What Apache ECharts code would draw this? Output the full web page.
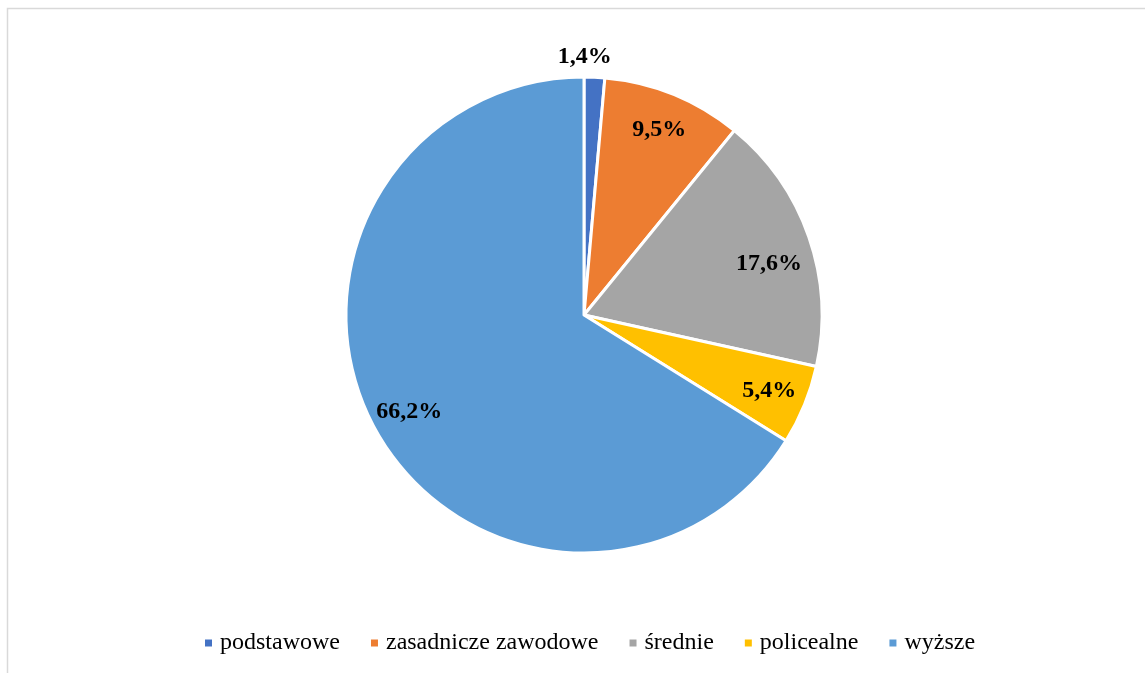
<!DOCTYPE html>
<html>
<head>
<meta charset="utf-8">
<script src="https://cdn.jsdelivr.net/npm/echarts@6/dist/echarts.min.js"></script>
<style>
html,body{margin:0;padding:0;background:#fff;}
#chart{width:1145px;height:673px;}
</style>
</head>
<body>
<div id="chart"></div>
<script>
const categories = ['podstawowe', 'zasadnicze zawodowe', 'średnie', 'policealne', 'wyższe'];
const values = [1.4, 9.5, 17.6, 5.4, 66.2];
const colors = ['#4472C4', '#ED7D31', '#A5A5A5', '#FFC000', '#5B9BD5'];

const chart = echarts.init(document.getElementById('chart'), null, {renderer: 'canvas'});
const fmt = p => p.value.toFixed(1).replace('.', ',') + '%';
const serif = '"Liberation Serif", "Times New Roman", serif';

const pieData = categories.map((c, i) => ({
  name: c, value: values[i], itemStyle: {color: colors[i]}
}));
const labelOffsets = {0: [-8, -58], 2: [-4, 14]};
const labelData = categories.map((c, i) => {
  const d = {name: c, value: values[i]};
  if (labelOffsets[i]) d.label = {offset: labelOffsets[i]};
  return d;
});

chart.setOption({
  animation: false,
  backgroundColor: '#fff',
  graphic: [{
    type: 'rect',
    shape: {x: 7.5, y: 8.5, width: 1200, height: 700},
    style: {fill: 'none', stroke: '#d9d9d9', lineWidth: 1.5},
    silent: true
  }],
  legend: {
    bottom: 13,
    left: 198,
    data: categories,
    icon: 'rect',
    itemWidth: 9,
    itemHeight: 9,
    itemGap: 29,
    textStyle: {fontFamily: serif, fontSize: 24, color: '#000', padding: [0, 0, 0, 2]},
  },
  series: [{
    type: 'pie',
    center: [584, 315],
    radius: [0, 238],
    startAngle: 90,
    clockwise: true,
    avoidLabelOverlap: false,
    label: {show: false},
    labelLine: {show: false},
    itemStyle: {borderColor: '#fff', borderWidth: 3},
    emphasis: {disabled: true},
    data: pieData
  }, {
    type: 'pie',
    center: [584, 315],
    radius: [156, 238],
    startAngle: 90,
    clockwise: true,
    silent: true,
    avoidLabelOverlap: false,
    legendHoverLink: false,
    itemStyle: {color: 'rgba(0,0,0,0)', borderWidth: 0},
    label: {
      show: true, position: 'inside', formatter: fmt,
      fontFamily: serif, fontSize: 24, fontWeight: 'bold', color: '#000'
    },
    labelLine: {show: false},
    emphasis: {disabled: true},
    data: labelData
  }]
});
</script>
</body>
</html>
